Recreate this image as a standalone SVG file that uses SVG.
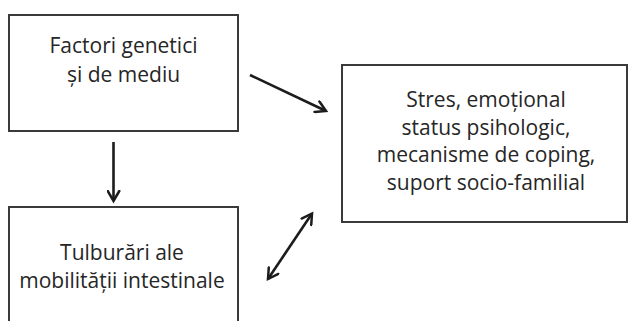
<svg xmlns="http://www.w3.org/2000/svg" width="629" height="321" viewBox="0 0 629 321">
  <style>
    .box { fill: #ffffff; stroke: #3a3a3a; stroke-width: 2; }
    .lbl { font-family: "Open Sans", "Liberation Sans", sans-serif; font-size: 21px; fill: #262626; text-anchor: middle; }
    .conn { stroke: #1c1c1c; stroke-width: 2.6; fill: none; }
  </style>
  <defs>
    <marker id="arr" viewBox="0 0 14 14" refX="11.5" refY="7" markerWidth="14" markerHeight="14" markerUnits="userSpaceOnUse" orient="auto-start-reverse">
      <path d="M1.5,1.2 L11.5,7 L1.5,12.8" fill="none" stroke="#1c1c1c" stroke-width="2.5" stroke-linejoin="miter" stroke-linecap="round"/>
    </marker>
  </defs>
  <rect x="0" y="0" width="629" height="321" fill="#ffffff"/>
  <g id="node-factori">
    <rect class="box" x="9" y="15" width="229" height="116"/>
    <text class="lbl" x="123.5" y="53">Factori genetici</text>
    <text class="lbl" x="123.5" y="82">și de mediu</text>
  </g>
  <g id="node-tulburari">
    <rect class="box" x="9" y="207" width="229" height="130"/>
    <text class="lbl" x="122" y="260">Tulburări ale</text>
    <text class="lbl" x="122" y="288">mobilității intestinale</text>
  </g>
  <g id="node-stres">
    <rect class="box" x="342" y="65" width="285" height="157"/>
    <text class="lbl" x="486" y="107">Stres, emoțional</text>
    <text class="lbl" x="486" y="135">status psihologic,</text>
    <text class="lbl" x="486" y="162">mecanisme de coping,</text>
    <text class="lbl" x="486" y="190">suport socio-familial</text>
  </g>
  <g id="connectors">
    <line class="conn" x1="113.5" y1="142" x2="113.5" y2="201" marker-end="url(#arr)"/>
    <line class="conn" x1="250" y1="75" x2="326" y2="111" marker-end="url(#arr)"/>
    <line class="conn" x1="268" y1="279" x2="312" y2="213.5" marker-start="url(#arr)" marker-end="url(#arr)"/>
  </g>
</svg>
